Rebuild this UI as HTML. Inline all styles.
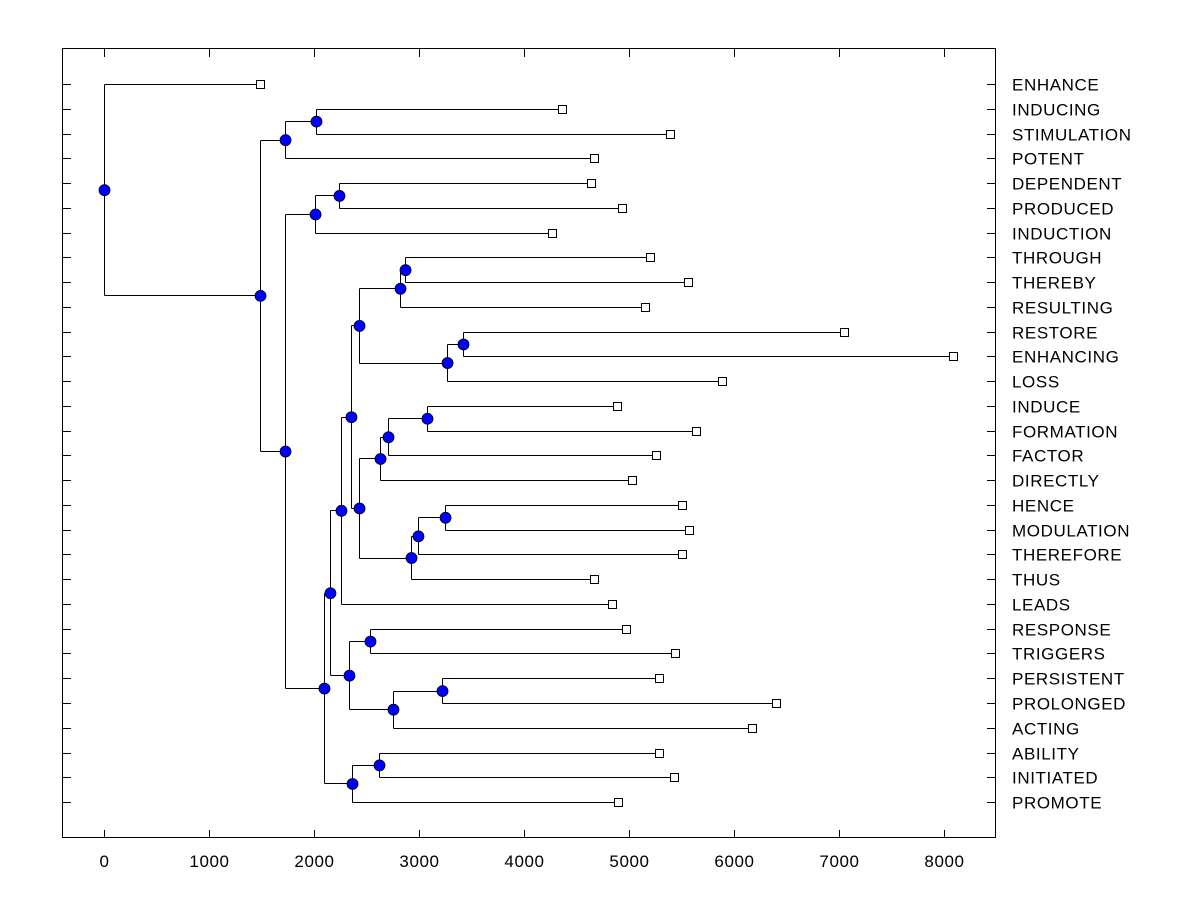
<!DOCTYPE html>
<html><head><meta charset="utf-8"><style>
html,body{margin:0;padding:0;background:#fff}
svg{display:block}
text{font-family:"Liberation Sans",Arial,sans-serif;font-size:17px;letter-spacing:0.6px;fill:#000}
</style></head><body>
<svg id="chart" width="1200" height="900" viewBox="0 0 1200 900">
<rect x="62.5" y="48.5" width="933" height="789" fill="none" stroke="#000" stroke-width="1"/>
<g id="ticks"></g><g id="lines"></g><g id="marks"></g><g id="labels"></g>
</svg>
<script>
const leafNames=["ENHANCE","INDUCING","STIMULATION","POTENT","DEPENDENT","PRODUCED","INDUCTION","THROUGH","THEREBY","RESULTING","RESTORE","ENHANCING","LOSS","INDUCE","FORMATION","FACTOR","DIRECTLY","HENCE","MODULATION","THEREFORE","THUS","LEADS","RESPONSE","TRIGGERS","PERSISTENT","PROLONGED","ACTING","ABILITY","INITIATED","PROMOTE"];
const leafValues=[1486,4362,5390,4667,4638,4933,4267,5200,5562,5152,7048,8086,5886,4886,5638,5257,5029,5505,5571,5505,4667,4838,4971,5438,5286,6400,6171,5286,5429,4895];
const mergeChildren=[[1,2],[30,3],[4,5],[32,6],[7,8],[34,9],[10,11],[36,12],[35,37],[13,14],[39,15],[40,16],[17,18],[42,19],[43,20],[41,44],[38,45],[46,21],[22,23],[24,25],[49,26],[48,50],[47,51],[27,28],[53,29],[52,54],[33,55],[31,56],[0,57]];
const mergeHeights=[2019,1724,2238,2010,2867,2819,3419,3267,2429,3076,2705,2629,3248,2990,2924,2429,2352,2257,2533,3219,2752,2333,2152,2619,2362,2095,1724,1486,0];
const xTicks=[0,1000,2000,3000,4000,5000,6000,7000,8000];

const NS="http://www.w3.org/2000/svg";
const xs=v=>104+v*0.105;
const ys=i=>84+i*24.76;
function mk(tag,parent,attrs){const e=document.createElementNS(NS,tag);for(const k in attrs)e.setAttribute(k,attrs[k]);document.getElementById(parent).appendChild(e);return e;}
const n=leafNames.length;
const X=[],Y=[];
leafValues.forEach((v,i)=>{X[i]=xs(v);Y[i]=ys(i);});
mergeChildren.forEach((c,k)=>{const id=n+k;X[id]=xs(mergeHeights[k]);Y[id]=(Y[c[0]]+Y[c[1]])/2;});
xTicks.forEach(t=>{
  const px=Math.round(xs(t))+0.5;
  let e=mk("line","ticks",{x1:px,x2:px,y1:838,y2:830,stroke:"#000"});
  
  
  e=mk("line","ticks",{x1:px,x2:px,y1:49,y2:57,stroke:"#000"});
  
  
  e=mk("text","labels",{x:px,y:867,"text-anchor":"middle"});
  e.textContent=t;
  
  
});
leafNames.forEach((nm,i)=>{
  const py=Math.round(ys(i))+0.5;
  let e=mk("line","ticks",{x1:62,x2:71,y1:py,y2:py,stroke:"#000"});
  
  
  e=mk("line","ticks",{x1:987,x2:996,y1:py,y2:py,stroke:"#000"});
  
  
  e=mk("text","labels",{x:1012,y:py+6});
  e.textContent=nm;
  
  
});
mergeChildren.forEach((c,k)=>{
  const id=n+k,x=Math.round(X[id])+0.5;
  const y1=Math.round(Math.min(Y[c[0]],Y[c[1]]))+0.5,y2=Math.round(Math.max(Y[c[0]],Y[c[1]]))+0.5;
  let e=mk("line","lines",{x1:x,x2:x,y1:y1,y2:y2,stroke:"#000"});
  
  
  c.forEach(ch=>{
    const yy=Math.round(Y[ch])+0.5;
    const e2=mk("line","lines",{x1:x,x2:Math.round(X[ch])+0.5,y1:yy,y2:yy,stroke:"#000"});
    
    
  });
});
leafValues.forEach((v,i)=>{
  const e=mk("rect","marks",{x:Math.round(X[i])-3.5,y:Math.round(Y[i])-3.5,width:8,height:8,fill:"#fff",stroke:"#000"});
  
  
});
mergeChildren.forEach((c,k)=>{
  const id=n+k;
  const e=mk("circle","marks",{cx:X[id]+0.5,cy:Y[id]+0.5,r:5.5,fill:"#0000ff",stroke:"#000","stroke-width":0.8});
  
  
});
</script>
</body></html>
